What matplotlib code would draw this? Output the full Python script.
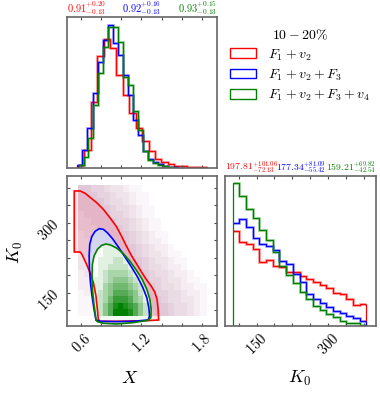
import numpy as np
import matplotlib.pyplot as plt
from matplotlib.patches import Patch
from matplotlib.colors import LinearSegmentedColormap
from matplotlib.ticker import MultipleLocator

plt.rcParams['font.family'] = 'serif'
plt.rcParams['font.serif'] = ['cmr10']
plt.rcParams['mathtext.fontset'] = 'cm'
plt.rcParams['axes.formatter.use_mathtext'] = True

colors = ['red', 'blue', 'green']
labels = [r'$F_1+v_2$', r'$F_1+v_2+F_3$', r'$F_1+v_2+F_3+v_4$']

# X marginal histograms (20 bins over each run's own range)
x_ranges = [(0.568, 1.846), (0.564, 1.560), (0.575, 1.558)]
x_hist_red = [10, 55, 198, 338, 388, 360, 280, 220, 165, 120,
              80, 50, 28, 18, 11, 7, 5, 4, 3, 3]
x_hist_blue = [10, 55, 120, 225, 320, 385, 430, 377, 340, 280,
               220, 145, 100, 50, 28, 18, 11, 7, 4, 2]
x_hist_green = [8, 32, 90, 190, 285, 365, 425, 423, 380, 275,
                250, 170, 115, 50, 25, 15, 9, 5, 3, 1]

# K0 marginal histograms (20 bins, 100..380)
k0_range = (100, 380)
k_hist_red = [285, 252, 246, 231, 190, 198, 178, 176, 162, 160,
              150, 140, 132, 122, 112, 100, 96, 80, 62, 66]
k_hist_blue = [308, 321, 296, 264, 244, 238, 226, 194, 184, 154,
               131, 95, 82, 70, 58, 46, 38, 30, 24, 14]
k_hist_green = [428, 388, 348, 323, 288, 258, 220, 178, 151, 128,
                103, 80, 61, 48, 35, 26, 15, 10, 8, 4]

# 2D density (rows from K0 high to low, 0-9 intensity)
red_density = [
    "66554332110000000000",
    "66655433211000000000",
    "66665443211000000000",
    "66666544321100000000",
    "56666554321100000000",
    "55666655432110000000",
    "55566665432110000000",
    "45566666543211000000",
    "44556666543221000000",
    "44455666654322100000",
    "34455566654332110000",
    "33445566665433211000",
    "33344556665443221000",
    "23344556666544322100",
    "22334455666554332110",
    "22233445566654432211",
    "12233445566655443221",
    "11223344556665443321",
    "11222334455666544321",
    "11122334455566544321",
]
green_density = [
    "00000000000000000000",
    "00000000000000000000",
    "00000000000000000000",
    "00000000000000000000",
    "00000000000000000000",
    "00000000000000000000",
    "00000000000000000000",
    "00000000000000000000",
    "00000011000000000000",
    "00000111100000000000",
    "00000111110000000000",
    "00001112211000000000",
    "00001122221100000000",
    "00001233332100000000",
    "00011234443210000000",
    "00011345554321000000",
    "00012346665421000000",
    "00012357776431000000",
    "00012468987642100000",
    "00012469998642100000",
]

# contour outlines (X, K0)
red_x = [0.532, 0.591, 0.640, 0.689, 0.755, 0.821, 0.886, 0.952, 1.001, 1.050,
         1.099, 1.148, 1.198, 1.247, 1.296, 1.332, 1.355, 1.365, 1.371, 1.247,
         0.952, 0.788, 0.771, 0.762, 0.748, 0.722, 0.689, 0.650, 0.608, 0.591, 0.532]
red_k0 = [367.9, 367.9, 362.9, 354.3, 342.9, 328.6, 310.7, 291.4, 271.4, 250.0,
          230.0, 212.9, 195.0, 178.6, 164.3, 151.4, 135.7, 114.3, 91.4, 90.0,
          88.6, 88.6, 92.9, 114.3, 142.9, 171.4, 192.9, 212.9, 232.1, 237.1, 237.1]
blue_x = [0.748, 0.729, 0.709, 0.693, 0.683, 0.680, 0.686, 0.706, 0.739, 0.781,
          0.821, 0.860, 0.912, 0.968, 1.034, 1.099, 1.165, 1.214, 1.253, 1.273,
          1.280, 1.266, 1.116, 0.952, 0.788]
blue_k0 = [91.4, 114.3, 142.9, 171.4, 200.0, 228.6, 253.6, 270.0, 281.4, 287.1,
           285.7, 278.6, 265.7, 248.6, 227.1, 205.7, 182.1, 160.7, 139.3, 117.9,
           100.0, 91.4, 88.6, 87.9, 88.6]
green_x = [0.748, 0.739, 0.726, 0.712, 0.709, 0.712, 0.729, 0.762, 0.804, 0.847,
           0.893, 0.952, 1.017, 1.083, 1.148, 1.207, 1.253, 1.283, 1.296, 1.293,
           1.263, 1.116, 0.952, 0.821, 0.762]
green_k0 = [91.4, 107.1, 128.6, 157.1, 185.7, 210.7, 228.6, 242.9, 251.4, 254.3,
            252.1, 245.7, 234.3, 217.9, 198.6, 178.6, 157.1, 135.7, 114.3, 96.4,
            90.7, 85.7, 82.9, 84.3, 87.9]

x_stats = [r'$0.91^{+0.20}_{-0.13}$', r'$0.92^{+0.16}_{-0.13}$', r'$0.93^{+0.15}_{-0.13}$']
k_stats = [r'$197.81^{+101.06}_{-72.13}$', r'$177.34^{+81.09}_{-55.42}$',
           r'$159.21^{+69.82}_{-42.54}$']

fig = plt.figure(figsize=(3.8, 3.93), dpi=100)
ax_x = fig.add_axes([0.1763, 0.5725, 0.3947, 0.3842])
ax_2d = fig.add_axes([0.1763, 0.1705, 0.3947, 0.3817])
ax_k = fig.add_axes([0.5921, 0.1705, 0.3974, 0.3817])

for ax in (ax_x, ax_2d, ax_k):
    for sp in ax.spines.values():
        sp.set_color('0.4')
        sp.set_linewidth(1.2)
    ax.tick_params(which='both', direction='in', top=True, right=True,
                   length=2.5, width=0.8, color='0.3', labelsize=10.5)

# top: X histograms
x_hists = [x_hist_red, x_hist_blue, x_hist_green]
for h, rng, c in zip(x_hists, x_ranges, colors):
    edges = np.linspace(rng[0], rng[1], len(h) + 1)
    ax_x.stairs(h, edges, color=c, lw=2.0, alpha=0.35, baseline=None)
    ax_x.stairs(h, edges, color=c, lw=0.9)
ax_x.set_xlim(0.46, 1.95)
ax_x.set_ylim(0, 454)
ax_x.xaxis.set_major_locator(MultipleLocator(0.6))
ax_x.xaxis.set_minor_locator(MultipleLocator(0.2))
ax_x.set_yticks([])
ax_x.tick_params(labelbottom=False)
for s, c, loc in zip(x_stats, colors, ['left', 'center', 'right']):
    ax_x.set_title(s, loc=loc, color=c, fontsize=7.5, pad=2)

# right: K0 histograms (only the last one keeps its left edge visible)
k_hists = [k_hist_red, k_hist_blue, k_hist_green]
k_edges = np.linspace(k0_range[0], k0_range[1], 21)
for i, (h, c) in enumerate(zip(k_hists, colors)):
    ax_k.stairs(h, k_edges, color=c, lw=2.0, alpha=0.35, baseline=None)
    if i == len(k_hists) - 1:
        ax_k.stairs(h, k_edges, color=c, lw=0.9)
    else:
        ax_k.stairs(h, k_edges, color=c, lw=0.9, baseline=None)
        ax_k.vlines(k_edges[-1], 0, h[-1], color=c, lw=0.9)
ax_k.set_xlim(84, 400)
ax_k.set_ylim(0, 448)
ax_k.xaxis.set_major_locator(MultipleLocator(150))
ax_k.xaxis.set_minor_locator(MultipleLocator(37.5))
ax_k.set_yticks([])
for lab in ax_k.get_xticklabels():
    lab.set_rotation(45)
for s, c, loc in zip(k_stats, colors, ['left', 'center', 'right']):
    ax_k.set_title(s, loc=loc, color=c, fontsize=7.0, pad=2)

# 2D panel
mauve = LinearSegmentedColormap.from_list('mauve', ['white', (0.86, 0.75, 0.82)])
greens = LinearSegmentedColormap.from_list('gr', ['white', (0.0, 0.5, 0.0)])
red_grid = np.array([[int(v) for v in row] for row in red_density[::-1]])
green_grid = np.array([[int(v) for v in row] for row in green_density[::-1]])
red_xe = np.linspace(x_ranges[0][0], x_ranges[0][1], 21)
green_xe = np.linspace(x_ranges[2][0], x_ranges[2][1], 21)

ax_2d.pcolormesh(red_xe, k_edges, red_grid, cmap=mauve, vmin=0, vmax=7, zorder=1)
ax_2d.fill(red_x, red_k0, color=(1.0, 0.3, 0.4), alpha=0.15, lw=0, zorder=2)
ax_2d.fill(blue_x, blue_k0, color=(0.82, 0.86, 0.96), alpha=0.85, lw=0, zorder=3)
gpoly = ax_2d.fill(green_x, green_k0, color=(0.94, 0.98, 0.94), lw=0, zorder=4)[0]
gmesh = ax_2d.pcolormesh(green_xe, k_edges, green_grid, cmap=greens, vmin=0, vmax=9,
                         zorder=5)
gmesh.set_clip_path(gpoly)
for xs, ks, c in zip([red_x, blue_x, green_x], [red_k0, blue_k0, green_k0], colors):
    ax_2d.fill(xs, ks, fill=False, edgecolor=c, lw=1.2, zorder=6)

ax_2d.set_xlim(0.46, 1.95)
ax_2d.set_ylim(78.6, 400)
ax_2d.xaxis.set_major_locator(MultipleLocator(0.6))
ax_2d.xaxis.set_minor_locator(MultipleLocator(0.2))
ax_2d.yaxis.set_major_locator(MultipleLocator(150))
ax_2d.yaxis.set_minor_locator(MultipleLocator(37.5))
for lab in ax_2d.get_xticklabels() + ax_2d.get_yticklabels():
    lab.set_rotation(45)

fig.text(130 / 380, 1 - 378 / 393, r'$X$', fontsize=13, ha='center', va='center')
fig.text(300 / 380, 1 - 378 / 393, r'$K_0$', fontsize=13, ha='center', va='center')
fig.text(15 / 380, 1 - 252 / 393, r'$K_0$', fontsize=13, ha='center', va='center',
         rotation=90)

handles = [Patch(facecolor='white', edgecolor=c, lw=1.0) for c in colors]
fig.legend(handles, labels, loc='upper left', bbox_to_anchor=(230 / 380, 1 - 28 / 393),
           frameon=False, title=r'$10-20\%$', fontsize=10, title_fontsize=10,
           handlelength=1.9, handleheight=0.7, borderpad=0, borderaxespad=0,
           labelspacing=0.35, handletextpad=0.8)

fig.savefig('out.png', dpi=100)
